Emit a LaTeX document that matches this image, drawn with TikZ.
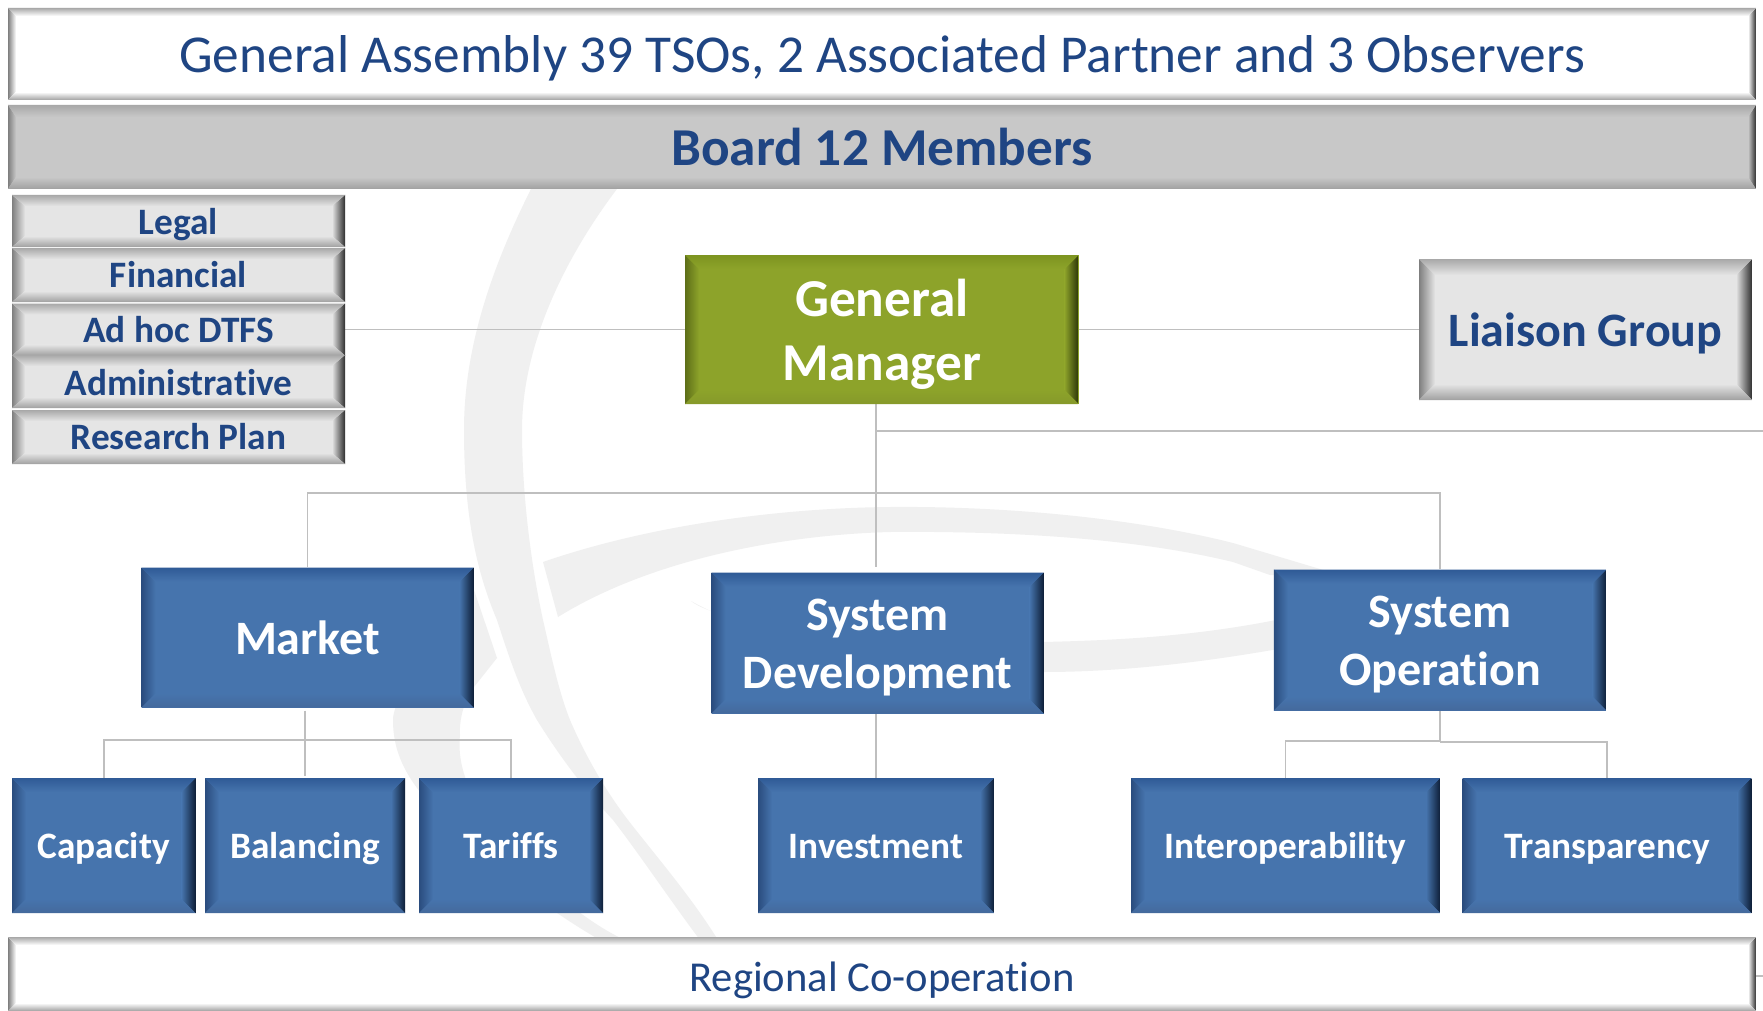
\documentclass[tikz,border=0pt]{standalone}
\usepackage{fontspec}
\setmainfont[Ligatures=NoCommon]{Carlito}
\usetikzlibrary{backgrounds}
\definecolor{ink}{HTML}{1F4583}
\definecolor{wmark}{HTML}{F0F0F0}
\definecolor{connc}{HTML}{BFBFBF}
% blue bevel
\definecolor{blueBase}{HTML}{4674AD}
\definecolor{blueTopA}{HTML}{2F5A96}
\definecolor{blueTopB}{HTML}{78A6E4}
\definecolor{blueBotA}{HTML}{2C4870}
\definecolor{blueBotB}{HTML}{44699C}
\definecolor{blueLeft}{HTML}{2A4C7E}
\definecolor{blueRight}{HTML}{0E1F38}
% green bevel
\definecolor{greenBase}{HTML}{8DA32A}
\definecolor{greenTopA}{HTML}{7D9420}
\definecolor{greenTopB}{HTML}{C4D955}
\definecolor{greenBotA}{HTML}{4F5F10}
\definecolor{greenBotB}{HTML}{86992A}
\definecolor{greenLeft}{HTML}{5D6E18}
\definecolor{greenRight}{HTML}{2C3508}
% light grey bevel
\definecolor{greyBase}{HTML}{E5E5E5}
\definecolor{greyTopA}{HTML}{A8A8A8}
\definecolor{greyTopB}{HTML}{FFFFFF}
\definecolor{greyBotA}{HTML}{787878}
\definecolor{greyBotB}{HTML}{A0A0A0}
\definecolor{greyLeft}{HTML}{7F7F7F}
\definecolor{greyRight}{HTML}{2E2E2E}
% mid grey bevel
\definecolor{midBase}{HTML}{C8C8C8}
\colorlet{midTopA}{greyTopA}
\colorlet{midTopB}{greyTopB}
\colorlet{midBotA}{greyBotA}
\colorlet{midBotB}{greyBotB}
\colorlet{midLeft}{greyLeft}
\colorlet{midRight}{greyRight}
% white bevel
\definecolor{whiteBase}{HTML}{FFFFFF}
\colorlet{whiteTopA}{greyTopA}
\colorlet{whiteTopB}{greyTopB}
\colorlet{whiteBotA}{greyBotA}
\colorlet{whiteBotB}{greyBotB}
\colorlet{whiteLeft}{greyLeft}
\colorlet{whiteRight}{greyRight}
\newcommand{\paintbevel}[3]{%
  \coordinate (pa) at (path picture bounding box.north west);
  \coordinate (pb) at (path picture bounding box.north east);
  \coordinate (pc) at (path picture bounding box.south east);
  \coordinate (pd) at (path picture bounding box.south west);
  \coordinate (qa) at ([xshift=#2,yshift=-#3]pa);
  \coordinate (qb) at ([xshift=-#2,yshift=-#3]pb);
  \coordinate (qc) at ([xshift=-#2,yshift=#3]pc);
  \coordinate (qd) at ([xshift=#2,yshift=#3]pd);
  \shade[left color=#1Left,right color=#1Base] (pa)--(qa)--(qd)--(pd)--cycle;
  \shade[left color=#1Base,middle color=#1Right!65!#1Base,right color=#1Right] (pb)--(qb)--(qc)--(pc)--cycle;
  \shade[top color=#1TopA,middle color=#1TopB,bottom color=#1Base] (pa)--(pb)--(qb)--(qa)--cycle;
  \shade[top color=#1Base,middle color=#1BotA,bottom color=#1BotB] (pd)--(pc)--(qc)--(qd)--cycle;
}
\newcommand{\fs}[2]{\fontsize{#1}{#2}\selectfont}
\tikzset{
  bevelbase/.style={inner sep=0pt,align=center},
  oneline/.style={text height=0.644*#1 pt+3pt,text depth=0pt},
  bf/.style={font=\bfseries\fs{#1}{#1},oneline=#1},
  rg/.style={font=\fs{#1}{#1},oneline=#1},
  twolines/.style n args={2}{font=\bfseries\fs{#1}{#2},text depth=0pt},
  blueBox/.style={bevelbase,fill=blueBase,text=white,
    path picture={\paintbevel{blue}{14pt}{14pt}}},
  greenBox/.style={bevelbase,fill=greenBase,text=white,
    path picture={\paintbevel{green}{14pt}{14pt}}},
  smallGrey/.style={bevelbase,fill=greyBase,text=ink,bf=37.3,
    minimum width=333pt,
    path picture={\paintbevel{grey}{13pt}{11pt}}},
  liaisonBox/.style={bevelbase,fill=greyBase,text=ink,
    path picture={\paintbevel{grey}{16pt}{16pt}}},
  boardBox/.style={bevelbase,fill=midBase,text=ink,
    path picture={\paintbevel{mid}{8pt}{12pt}}},
  whiteBox/.style={bevelbase,fill=whiteBase,text=ink,
    path picture={\paintbevel{white}{8pt}{8pt}}},
  leaf/.style={blueBox,bf=37.3,minimum height=135pt,text depth=2pt},
  conn/.style={draw=connc,line width=1.8pt},
  wshape/.style={fill=wmark,draw=none},
}
\begin{document}
\begin{tikzpicture}[x=1pt,y=-1pt]
\useasboundingbox (0,0) rectangle (1763,1011);

\node[whiteBox,rg=53.3,minimum width=1748pt,minimum height=92pt] (assembly) at (882,54)
  {General Assembly 39 TSOs, 2 Associated Partner and 3 Observers};
\node[boardBox,bf=53.3,minimum width=1748pt,minimum height=84pt] (board) at (882,147)
  {Board 12 Members};

\node[smallGrey,minimum height=52pt] (legal) at (178.5,221) {Legal};
\node[smallGrey,minimum height=54pt,text depth=2pt] (financial) at (178.5,275) {Financial};
\node[smallGrey,minimum height=52pt,text depth=1pt] (adhoc) at (178.5,329.5) {Ad hoc DTFS};
\node[smallGrey,minimum height=53pt] (admin) at (178.5,381.5) {Administrative};
\node[smallGrey,minimum height=54pt,text depth=2pt] (research) at (178.5,437) {Research Plan};

\node[greenBox,twolines={53.3}{64},text height=102.8pt,minimum width=393.5pt,minimum height=149pt] (gm) at (881.75,329.5)
  {General\\Manager};
\node[liaisonBox,bf=48,minimum width=333pt,minimum height=141pt] (liaison) at (1585.5,329.5)
  {Liaison Group};

\node[blueBox,bf=48,minimum width=332pt,minimum height=140pt] (market) at (307.5,637.5)
  {Market};
\node[blueBox,twolines={48}{57.6},text height=90.7pt,minimum width=332pt,minimum height=141pt] (sysdev) at (877.5,643)
  {System\\Development};
\node[blueBox,twolines={48}{57.6},text height=90.7pt,minimum width=332.5pt,minimum height=141pt] (sysop) at (1440,640)
  {System\\Operation};

\node[leaf,minimum width=183.5pt] (capacity) at (103.75,845.5) {Capacity};
\node[leaf,minimum width=200pt] (balancing) at (305,845.5) {Balancing};
\node[leaf,minimum width=184pt] (tariffs) at (511,845.5) {Tariffs};
\node[leaf,minimum width=236pt] (investment) at (876,845.5) {Investment};
\node[leaf,minimum width=309pt] (interop) at (1285.5,845.5) {Interoperability};
\node[leaf,minimum width=288.6pt] (transparency) at (1607,845.5) {Transparency};

\node[whiteBox,rg=42.6,text height=35pt,minimum width=1748pt,minimum height=74pt] (regional) at (882,974)
  {Regional Co-operation};

\coordinate (bus) at (876,493);
\coordinate (tap) at (876,431);
\coordinate (offright) at (1763,431);
\coordinate (mbus) at (305,740);
\coordinate (sobus) at (1440,741);
\coordinate (stub) at (1763,976);

\begin{scope}[on background layer]
  \fill[white] (0,0) rectangle (1763,1011);
  % watermark
  \fill[wshape] (533,185) .. controls (490,270) and (464,350) .. (464,430)
    .. controls (464,520) and (478,575) .. (497,620)
    .. controls (510,660) and (520,690) .. (537,720)
    .. controls (565,765) and (590,795) .. (613,820)
    .. controls (640,855) and (670,900) .. (700,940)
    -- (718,940)
    .. controls (690,895) and (655,855) .. (628,820)
    .. controls (605,790) and (585,755) .. (570,720)
    .. controls (558,690) and (550,650) .. (543,620)
    .. controls (530,560) and (522,490) .. (522,430)
    .. controls (522,340) and (570,250) .. (620,185) -- cycle;
  \fill[wshape] (474,590) -- (497,658) -- (474,687)
    .. controls (464,700) and (459,720) .. (460,735)
    .. controls (458,755) and (462,775) .. (475,800)
    .. controls (510,860) and (580,920) .. (625,940)
    -- (600,940)
    .. controls (530,900) and (430,820) .. (404,767)
    .. controls (398,755) and (393,740) .. (393,720)
    .. controls (393,690) and (450,640) .. (474,590) -- cycle;
  \fill[wshape] (543,562) .. controls (650,525) and (780,508) .. (890,507)
    .. controls (1000,506) and (1130,517) .. (1233,543)
    -- (1340,575) -- (1270,575) -- (1233,562)
    .. controls (1130,537) and (1000,531) .. (890,532)
    .. controls (780,535) and (650,560) .. (558,617) -- cycle;
  \fill[wshape] (691,601) .. controls (720,625) and (880,645) .. (1043,642)
    .. controls (1130,640) and (1210,635) .. (1300,615)
    -- (1300,645)
    .. controls (1220,660) and (1130,672) .. (1043,672)
    .. controls (900,672) and (760,640) .. (691,601) -- cycle;
  % connectors
  \draw[conn] (adhoc.east) -- (gm.west);
  \draw[conn] (gm.east) -- (liaison.west);
  \draw[conn] (tap |- gm.south) -- (tap) -- (bus) -- ([yshift=5pt]tap |- sysdev.north);
  \draw[conn] (tap) -- (offright);
  \draw[conn] (market.north) |- (bus) -| (sysop.north);
  \draw[conn] ([yshift=-3pt]balancing.north |- market.south) -- (mbus) -- ([yshift=2pt]balancing.north);
  \draw[conn] (capacity.north) |- (mbus) -| (tariffs.north);
  \draw[conn] (investment.north |- sysdev.south) -- (investment.north);
  \draw[conn] (sysop.south) -- (sobus);
  \draw[conn] (interop.north) |- (sobus);
  \draw[conn] (transparency.north) |- ([yshift=-1pt]sobus);
  \draw[conn] ([yshift=-2pt]regional.east) -- (stub);
\end{scope}
\end{tikzpicture}
\end{document}
